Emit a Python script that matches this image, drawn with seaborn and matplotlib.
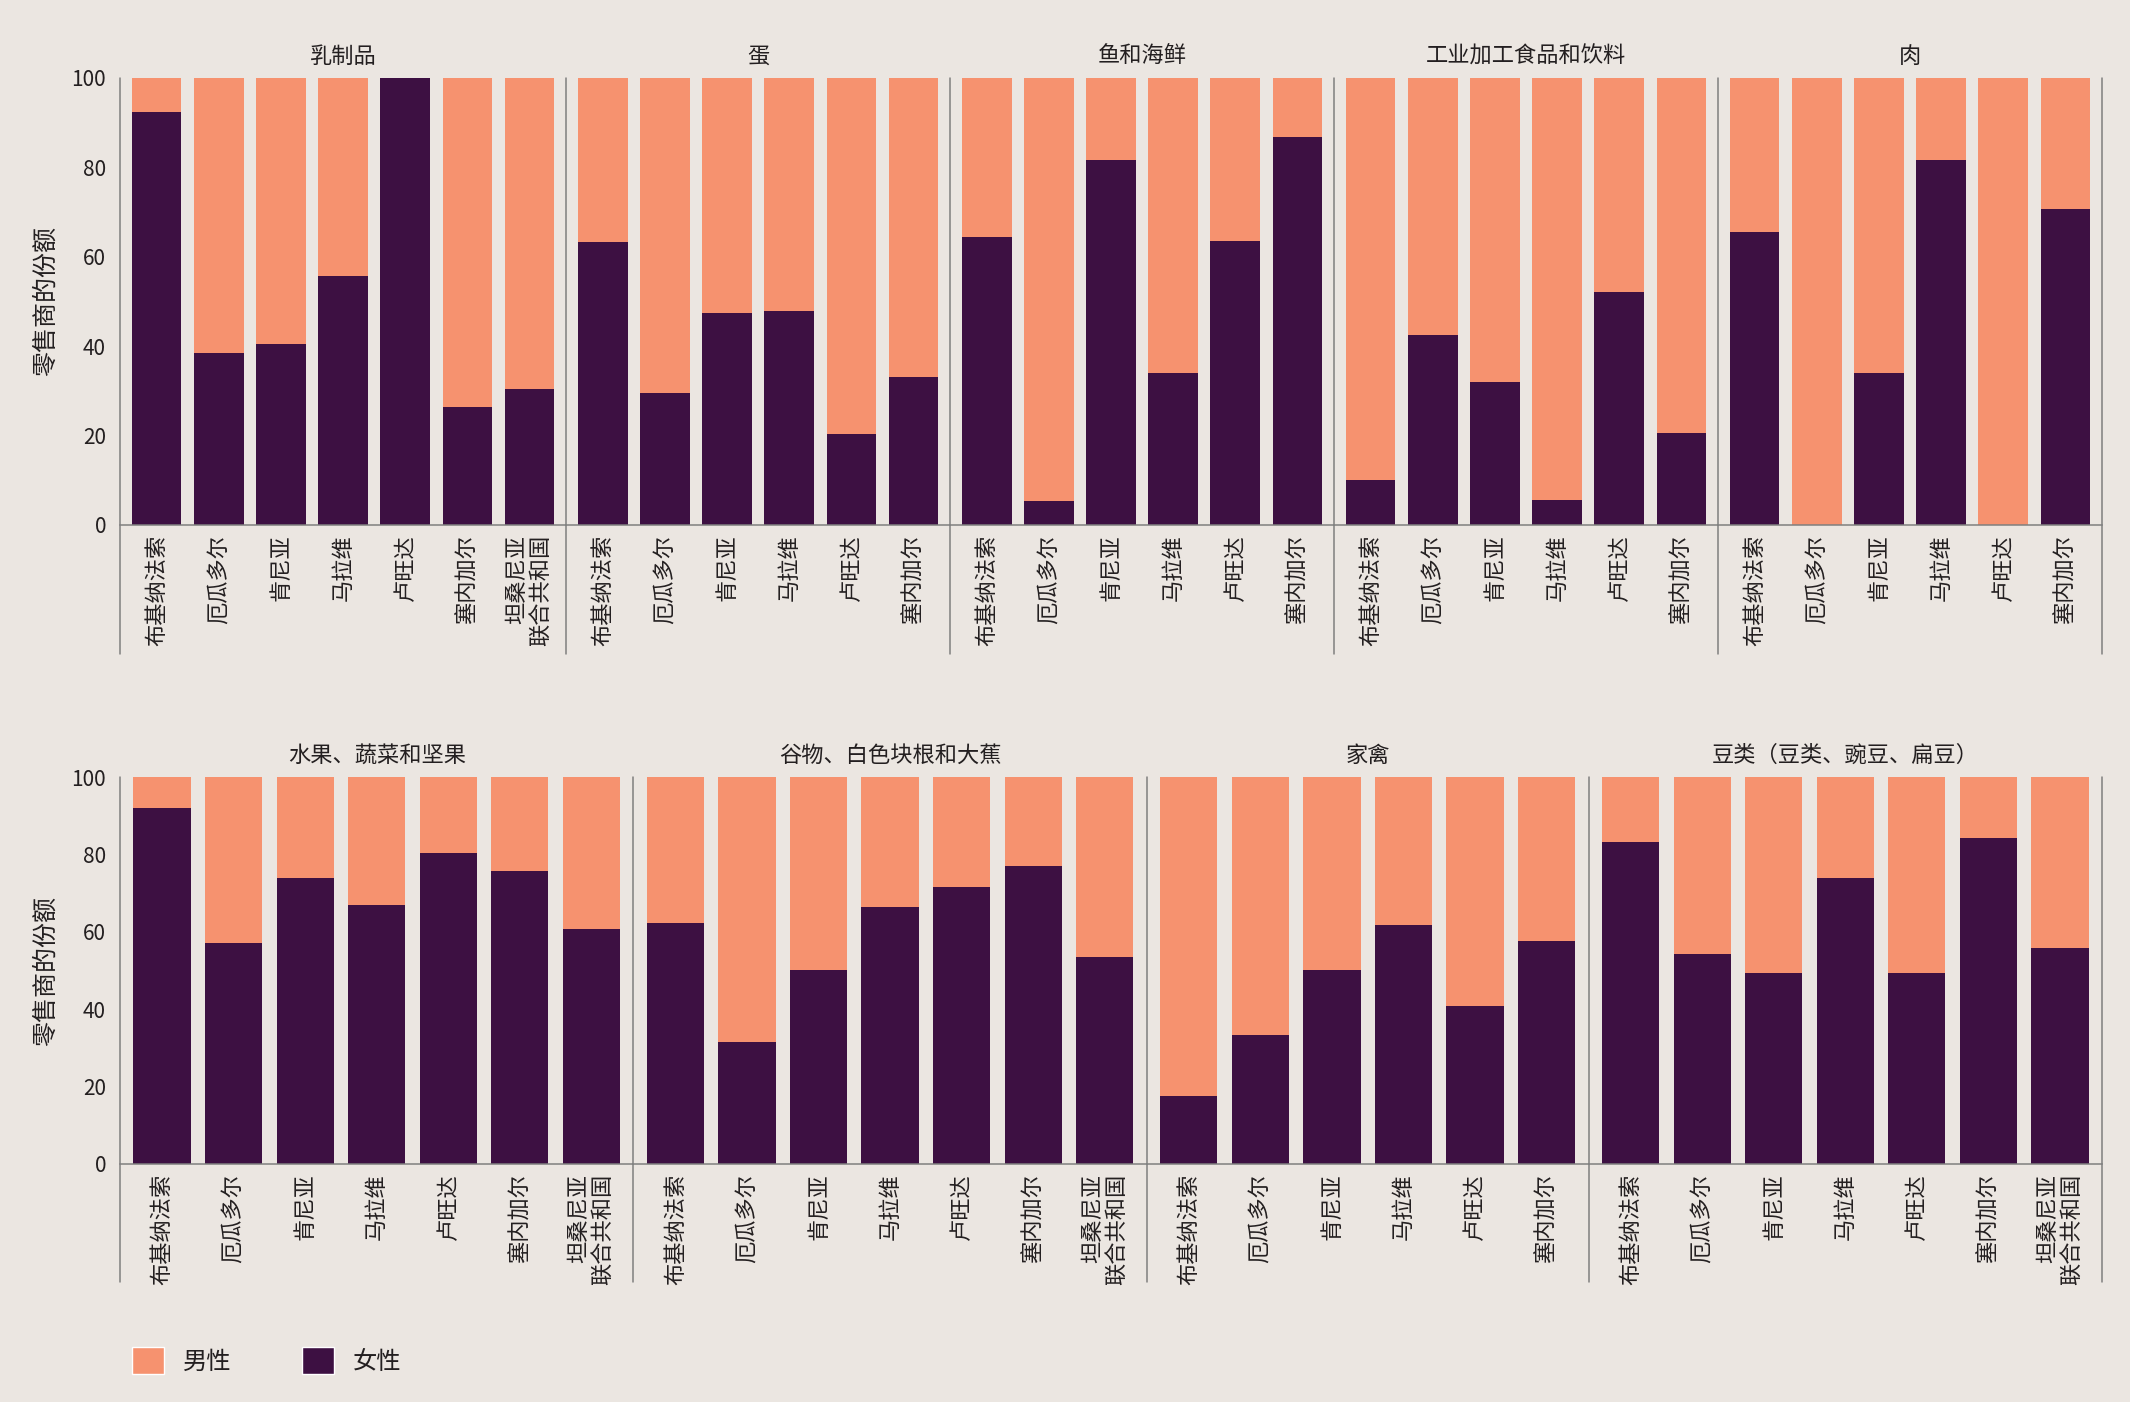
import matplotlib
matplotlib.use("Agg")
import pandas as pd
import seaborn as sns
import matplotlib.pyplot as plt
from matplotlib.patches import Patch

sns.set_theme(style="white")
plt.rcParams["font.family"] = ["Noto Sans CJK SC", "DejaVu Sans"]

# colours
bg = "#EBE6E1"
male_c = "#F6926F"
female_c = "#3D1042"
line_c = "#7F7F7F"
text_c = "#231F20"

# countries
countries = ["布基纳法索", "厄瓜多尔", "肯尼亚", "马拉维", "卢旺达", "塞内加尔", "坦桑尼亚\n联合共和国"]

# female share of retailers (%), per food group
dairy_f = [92.4, 38.4, 40.6, 55.6, 100.0, 26.5, 30.4]
eggs_f = [63.3, 29.5, 47.4, 47.8, 20.3, 33.0]
fish_f = [64.4, 5.4, 81.7, 33.9, 63.5, 86.7]
processed_f = [10.1, 42.5, 32.0, 5.7, 52.2, 20.5]
meat_f = [65.6, 0.0, 33.9, 81.7, 0.0, 70.8]
fruit_f = [91.9, 57.0, 73.8, 66.9, 80.4, 75.8, 60.8]
grains_f = [62.2, 31.4, 50.1, 66.4, 71.6, 77.1, 53.5]
poultry_f = [17.5, 33.4, 50.1, 61.7, 40.7, 57.6]
legumes_f = [83.2, 54.3, 49.4, 73.8, 49.4, 84.3, 55.7]

# male share of retailers (%)
dairy_m = [7.6, 61.6, 59.4, 44.4, 0.0, 73.5, 69.6]
eggs_m = [36.7, 70.5, 52.6, 52.2, 79.7, 67.0]
fish_m = [35.6, 94.6, 18.3, 66.1, 36.5, 13.3]
processed_m = [89.9, 57.5, 68.0, 94.3, 47.8, 79.5]
meat_m = [34.4, 100.0, 66.1, 18.3, 100.0, 29.2]
fruit_m = [8.1, 43.0, 26.2, 33.1, 19.6, 24.2, 39.2]
grains_m = [37.8, 68.6, 49.9, 33.6, 28.4, 22.9, 46.5]
poultry_m = [82.5, 66.6, 49.9, 38.3, 59.3, 42.4]
legumes_m = [16.8, 45.7, 50.6, 26.2, 50.6, 15.7, 44.3]

groups = {
    "乳制品": (dairy_f, dairy_m),
    "蛋": (eggs_f, eggs_m),
    "鱼和海鲜": (fish_f, fish_m),
    "工业加工食品和饮料": (processed_f, processed_m),
    "肉": (meat_f, meat_m),
    "水果、蔬菜和坚果": (fruit_f, fruit_m),
    "谷物、白色块根和大蕉": (grains_f, grains_m),
    "家禽": (poultry_f, poultry_m),
    "豆类（豆类、豌豆、扁豆）": (legumes_f, legumes_m),
}

rows_ = []
for g, (f, m) in groups.items():
    for c, fv, mv in zip(countries, f, m):
        rows_.append({"group": g, "country": c, "female": fv, "male": mv})
df = pd.DataFrame(rows_)
df["total"] = df["female"] + df["male"]

top_row = ["乳制品", "蛋", "鱼和海鲜", "工业加工食品和饮料", "肉"]
bottom_row = ["水果、蔬菜和坚果", "谷物、白色块根和大蕉", "家禽", "豆类（豆类、豌豆、扁豆）"]

W, H = 2130, 1402
fig = plt.figure(figsize=(W / 100, H / 100), dpi=100)
fig.patch.set_facecolor(bg)

# (panels, axis top px, axis bottom px, divider bottom px)
row_specs = [
    (top_row, 78, 525, 654),
    (bottom_row, 777, 1164, 1282),
]
pad = 0.588

for panels, y_top, y_bot, y_drop in row_specs:
    ns = [len(df[df["group"] == p]) for p in panels]
    gs = fig.add_gridspec(1, len(panels), left=120 / W, right=2102 / W,
                          top=1 - y_top / H, bottom=1 - y_bot / H, wspace=0,
                          width_ratios=[n + 2 * pad - 1 for n in ns])
    drop = (y_drop - y_bot) / (y_bot - y_top)
    for i, p in enumerate(panels):
        ax = fig.add_subplot(gs[0, i])
        ax.set_facecolor(bg)
        sub = df[df["group"] == p]
        n = len(sub)
        # stacked bars: full bar in male colour, female share drawn on top
        sns.barplot(data=sub, x="country", y="total", color=male_c, saturation=1,
                    width=0.8, linewidth=0, errorbar=None, ax=ax)
        sns.barplot(data=sub, x="country", y="female", color=female_c, saturation=1,
                    width=0.8, linewidth=0, errorbar=None, ax=ax)
        ax.set_xlim(-pad, n - 1 + pad)
        ax.set_ylim(0, 100)
        ax.set_xlabel("")
        ax.set_ylabel("")
        ax.set_title(p, fontsize=16, color=text_c, pad=11, fontweight="medium")
        ax.set_xticks(range(n))
        ax.set_xticklabels(sub["country"], rotation=90, fontsize=16, color=text_c,
                           ma="right", linespacing=1.1)
        ax.tick_params(axis="x", length=0, pad=7)
        if i == 0:
            ax.set_yticks([0, 20, 40, 60, 80, 100])
            ax.tick_params(axis="y", length=0, pad=10, labelsize=15, labelcolor=text_c)
        else:
            ax.set_yticks([])
        for s in ["left", "right", "top"]:
            ax.spines[s].set_visible(False)
        ax.spines["bottom"].set_color(line_c)
        ax.spines["bottom"].set_linewidth(1.1)
        ax.plot([0, 0], [1, -drop], transform=ax.transAxes, clip_on=False,
                color=line_c, lw=1.1)
        if i == len(panels) - 1:
            ax.plot([1, 1], [1, -drop], transform=ax.transAxes, clip_on=False,
                    color=line_c, lw=1.1)
    fig.text(46 / W, 1 - (y_top + y_bot) / 2 / H, "零售商的份额", rotation=90,
             ha="center", va="center", fontsize=18, color=text_c, fontweight="medium")

handles = [Patch(facecolor=male_c, label="男性"), Patch(facecolor=female_c, label="女性")]
fig.legend(handles=handles, loc="center left", bbox_to_anchor=(132 / W, 1 - 1361 / H),
           ncol=2, frameon=False, fontsize=17.5, handlelength=1.3, handleheight=1.3,
           handletextpad=0.8, columnspacing=2.9, borderpad=0, borderaxespad=0,
           labelcolor=text_c)

fig.savefig("out.png", dpi=100, facecolor=bg)
